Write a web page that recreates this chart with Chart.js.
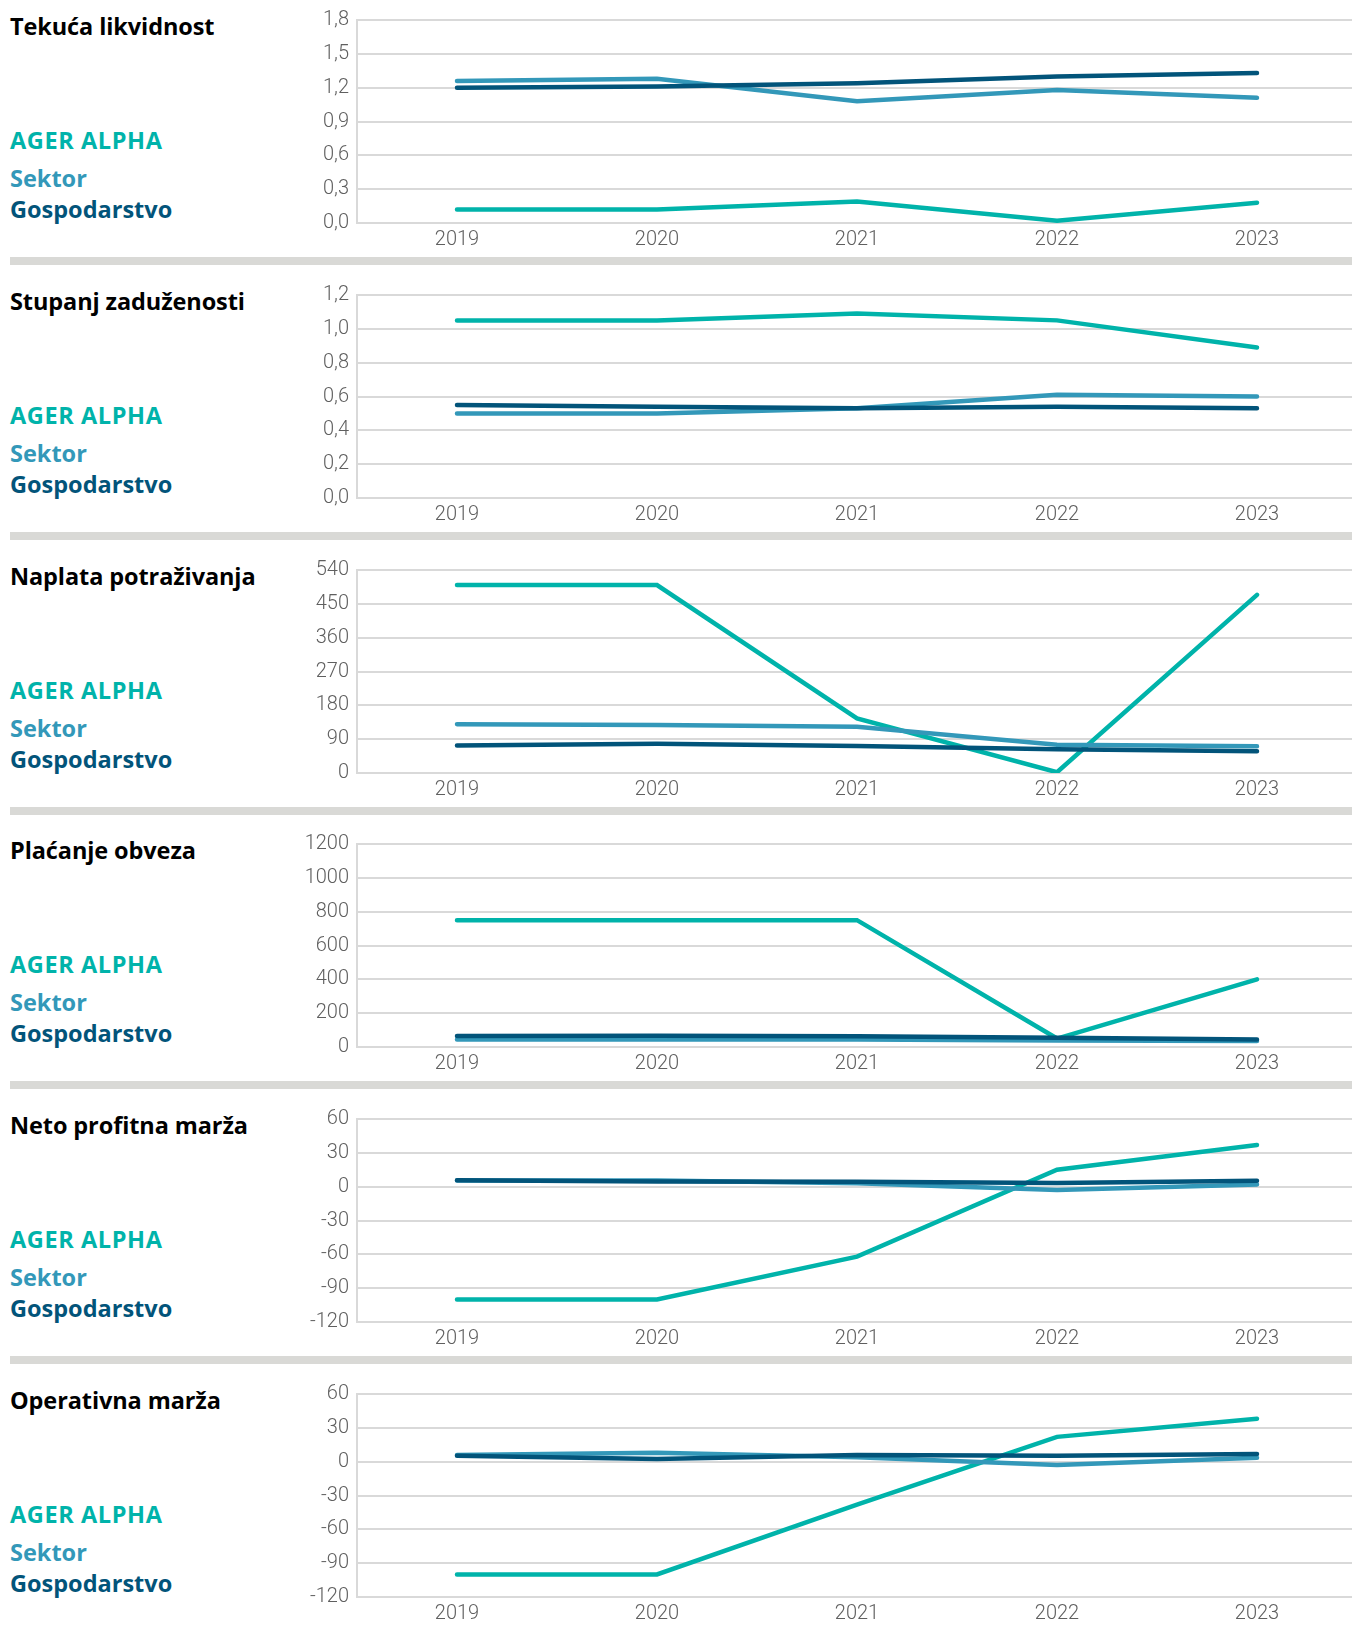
<!DOCTYPE html>
<html>
<head>
<meta charset="utf-8">
<script src="https://cdn.jsdelivr.net/npm/chart.js@4.4.1/dist/chart.umd.min.js"></script>
<style>
    html, body { margin: 0; padding: 0; background: #fff; overflow: hidden; }
    body { width: 1352px; height: 1632px; position: relative; }
    .panel { position: absolute; left: 0; width: 1352px; height: 275px; }
    .panel canvas { position: absolute; left: 280px; top: 0; }
    .txt { position: absolute; left: 10px; font-family: "Open Sans", sans-serif; font-weight: 700; font-size: 23.5px; line-height: 26px; white-space: nowrap; }
    .title { color: #000; letter-spacing: -0.1px; }
    .ager { color: #00b3aa; letter-spacing: 0.6px; }
    .sektor { color: #3398b9; }
    .gosp { color: #02547a; }
    .sep { position: absolute; left: 10px; right: 0; top: 257px; height: 8px; background: #d9d9d6; }
</style>
</head>
<body>
<script>
// Data
const years = ['2019', '2020', '2021', '2022', '2023'];
const titles = ['Tekuća likvidnost', 'Stupanj zaduženosti', 'Naplata potraživanja', 'Plaćanje obveza', 'Neto profitna marža', 'Operativna marža'];
const seriesNames = ['AGER ALPHA', 'Sektor', 'Gospodarstvo'];

const agerLikvidnost = [0.12, 0.12, 0.19, 0.02, 0.18];
const sektorLikvidnost = [1.26, 1.28, 1.08, 1.18, 1.11];
const gospLikvidnost = [1.20, 1.21, 1.24, 1.30, 1.33];

const agerZaduzenost = [1.05, 1.05, 1.09, 1.05, 0.89];
const sektorZaduzenost = [0.50, 0.50, 0.53, 0.61, 0.60];
const gospZaduzenost = [0.55, 0.54, 0.53, 0.54, 0.53];

const agerNaplata = [500, 500, 145, 2, 474];
const sektorNaplata = [130, 128, 123, 75, 71];
const gospNaplata = [73, 78, 72, 63, 58];

const agerPlacanje = [750, 750, 750, 50, 400];
const sektorPlacanje = [45, 45, 45, 38, 35];
const gospPlacanje = [65, 66, 64, 55, 45];

const agerNeto = [-100, -100, -62, 15, 37];
const sektorNeto = [5.5, 5.5, 3, -3, 2];
const gospNeto = [5.7, 4.6, 4.4, 3.3, 5.3];

const agerOperativna = [-100, -100, -38, 22, 38];
const sektorOperativna = [6, 8, 4, -3, 3.5];
const gospOperativna = [5.3, 2.3, 5.9, 5.3, 6.7];

// Y axis ranges: [min, max, step, decimals]
const yRanges = [
    [0, 1.8, 0.3, 1],
    [0, 1.2, 0.2, 1],
    [0, 540, 90, 0],
    [0, 1200, 200, 0],
    [-120, 60, 30, 0],
    [-120, 60, 30, 0]
];

const panelData = [
    [agerLikvidnost, sektorLikvidnost, gospLikvidnost],
    [agerZaduzenost, sektorZaduzenost, gospZaduzenost],
    [agerNaplata, sektorNaplata, gospNaplata],
    [agerPlacanje, sektorPlacanje, gospPlacanje],
    [agerNeto, sektorNeto, gospNeto],
    [agerOperativna, sektorOperativna, gospOperativna]
];

const colors = ['#00b3aa', '#3398b9', '#02547a'];
const gridColor = '#d9d9d9';
const tickFont = { family: 'Roboto', size: 20, weight: '300' };
const tickColor = '#5f5f5f';

const panelTops = [0, 275, 550, 824, 1099, 1374];

// BUILD PANELS - title, legend text, canvas and separator bar
titles.forEach((title, i) => {
    const panel = document.createElement('div');
    panel.className = 'panel';
    panel.style.top = panelTops[i] + 'px';
    panel.innerHTML = `
        <div class="txt title" style="top:13px">${title}</div>
        <div class="txt ager" style="top:127px">${seriesNames[0]}</div>
        <div class="txt sektor" style="top:165px">${seriesNames[1]}</div>
        <div class="txt gosp" style="top:196px">${seriesNames[2]}</div>
        <canvas id="chart-${i}" width="1077" height="257" style="width:1077px;height:257px"></canvas>
        ${i < titles.length - 1 ? '<div class="sep"></div>' : ''}
    `;
    document.body.appendChild(panel);

    const [yMin, yMax, yStep, decimals] = yRanges[i];

    new Chart(document.getElementById(`chart-${i}`), {
        type: 'line',
        data: {
            labels: years,
            datasets: panelData[i].map((values, s) => ({
                label: seriesNames[s],
                data: values,
                borderColor: colors[s],
                backgroundColor: colors[s],
                borderWidth: 4.5,
                borderCapStyle: 'round',
                pointRadius: 0,
                tension: 0,
                order: 3 - s
            }))
        },
        options: {
            responsive: false,
            animation: false,
            layout: { padding: { top: 17, left: 0, right: 0, bottom: 0 } },
            plugins: {
                legend: { display: false },
                tooltip: { enabled: false }
            },
            scales: {
                x: {
                    offset: true,
                    grid: { display: false, drawTicks: false },
                    border: { display: false },
                    ticks: { font: tickFont, color: tickColor, padding: 5, maxRotation: 0 },
                    afterFit: scale => { scale.height = 34; }
                },
                y: {
                    min: yMin,
                    max: yMax,
                    grid: { color: gridColor, lineWidth: 2, drawTicks: false },
                    border: { display: true, color: gridColor, width: 2 },
                    ticks: {
                        stepSize: yStep,
                        font: tickFont,
                        color: tickColor,
                        padding: 8,
                        callback: value => decimals ? value.toFixed(decimals).replace('.', ',') : String(Math.round(value))
                    },
                    afterFit: scale => { scale.width = 77; }
                }
            }
        }
    });
});
</script>
</body>
</html>
